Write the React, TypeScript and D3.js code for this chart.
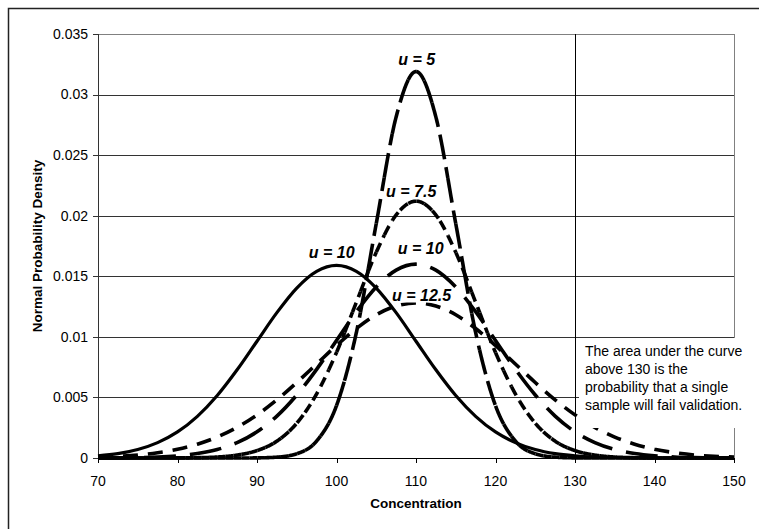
import React, { useEffect, useRef } from "react";
import * as d3 from "d3";

// ---- data ----
const concentration = [
  70, 72.5, 75, 77.5, 80, 82.5, 85, 87.5, 90, 92.5, 95, 97.5, 100, 102.5, 105, 107.5, 110,
  112.5, 115, 117.5, 120, 122.5, 125, 127.5, 130, 132.5, 135, 137.5, 140, 142.5, 145, 147.5, 150,
];

// u = 10, centred at 100 (solid)
const solidU10 = [
  0.00018, 0.00036, 0.0007, 0.00127, 0.00215, 0.00344, 0.00516, 0.00728, 0.00964, 0.012, 0.01403,
  0.01541, 0.0159, 0.01541, 0.01403, 0.012, 0.00964, 0.00728, 0.00516, 0.00344, 0.00215, 0.00127,
  0.0007, 0.00036, 0.00018, 0.00008, 0.00004, 0.00001, 0, 0, 0, 0, 0,
];
// u = 5
const seriesU5 = [
  0, 0, 0, 0, 0, 0, 0, 0, 0.00001, 0.00007, 0.00035, 0.0014, 0.00432, 0.01036, 0.01935, 0.02815,
  0.0319, 0.02815, 0.01935, 0.01036, 0.00432, 0.0014, 0.00035, 0.00007, 0.00001, 0, 0, 0, 0, 0, 0,
  0, 0,
];
// u = 7.5
const seriesU75 = [
  0, 0, 0, 0, 0.000007, 0.000025, 0.00008, 0.00024, 0.00061, 0.00139, 0.00287, 0.00529, 0.00871,
  0.01286, 0.01698, 0.02006, 0.0212, 0.02006, 0.01698, 0.01286, 0.00871, 0.00529, 0.00287, 0.00139,
  0.00061, 0.00024, 0.00008, 0.000025, 0.000007, 0, 0, 0, 0,
];
// u = 10, centred at 110
const seriesU10 = [
  0.000005, 0.000014, 0.000035, 0.00008, 0.00018, 0.00037, 0.0007, 0.00127, 0.00216, 0.00346,
  0.0052, 0.00732, 0.0097, 0.01208, 0.01412, 0.01551, 0.016, 0.01551, 0.01412, 0.01208, 0.0097,
  0.00732, 0.0052, 0.00346, 0.00216, 0.00127, 0.0007, 0.00037, 0.00018, 0.00008, 0.000035,
  0.000014, 0.000005,
];
// u = 12.5
const seriesU125 = [
  0.00008, 0.00014, 0.00025, 0.00044, 0.00072, 0.00114, 0.00173, 0.00253, 0.00356, 0.0048,
  0.00623, 0.00776, 0.00929, 0.01069, 0.01182, 0.01255, 0.0128, 0.01255, 0.01182, 0.01069,
  0.00929, 0.00776, 0.00623, 0.0048, 0.00356, 0.00253, 0.00173, 0.00114, 0.00072, 0.00044,
  0.00025, 0.00014, 0.00008,
];

const xTicks = [70, 80, 90, 100, 110, 120, 130, 140, 150];
const yTicks = [0, 0.005, 0.01, 0.015, 0.02, 0.025, 0.03, 0.035];
const yTickLabels = ["0", "0.005", "0.01", "0.015", "0.02", "0.025", "0.03", "0.035"];

const curveLabels = [
  { text: "u = 5", x: 110.1, y: 0.0324 },
  { text: "u = 7.5", x: 109.4, y: 0.02155 },
  { text: "u = 10", x: 110.6, y: 0.0168 },
  { text: "u = 10", x: 99.4, y: 0.0165 },
  { text: "u = 12.5", x: 110.7, y: 0.0130 },
];

const noteLines = [
  "The area under the curve",
  "above 130 is the",
  "probability that a single",
  "sample will fail validation.",
];

const W = 759;
const H = 529;
const L = 98;
const R = 734;
const T = 34;
const B = 458;

export default function App() {
  const ref = useRef<SVGSVGElement | null>(null);

  useEffect(() => {
    const svg = d3.select(ref.current);
    svg.selectAll("*").remove();
    const font = "'Liberation Sans', Arial, sans-serif";

    const x = d3.scaleLinear().domain([70, 150]).range([L, R]);
    const y = d3.scaleLinear().domain([0, 0.035]).range([B, T]);
    const snap = (v: number) => Math.round(v) + 0.5;

    svg.append("rect").attr("x", 0).attr("y", 0).attr("width", W).attr("height", H).attr("fill", "#fff");
    // chart outer border (cut off on right/bottom)
    svg
      .append("rect")
      .attr("x", 8.5)
      .attr("y", 8.5)
      .attr("width", 900)
      .attr("height", 700)
      .attr("fill", "none")
      .attr("stroke", "#222")
      .attr("stroke-width", 1.5);

    // gridlines
    const grid = svg.append("g");
    yTicks.forEach((t) => {
      grid
        .append("line")
        .attr("x1", L)
        .attr("x2", R)
        .attr("y1", snap(y(t)))
        .attr("y2", snap(y(t)))
        .attr("stroke", t === 0.035 ? "#808080" : "#333")
        .attr("stroke-width", 1);
    });
    // plot-area right border
    grid
      .append("line")
      .attr("x1", snap(R))
      .attr("x2", snap(R))
      .attr("y1", T)
      .attr("y2", B)
      .attr("stroke", "#808080");
    // vertical line at 130
    grid
      .append("line")
      .attr("x1", snap(x(130)))
      .attr("x2", snap(x(130)))
      .attr("y1", T)
      .attr("y2", B)
      .attr("stroke", "#000");

    // axes
    const ax = svg.append("g");
    ax.append("line").attr("x1", snap(L)).attr("x2", snap(L)).attr("y1", T).attr("y2", B + 0.5).attr("stroke", "#333");
    ax.append("line").attr("x1", L).attr("x2", R).attr("y1", snap(B)).attr("y2", snap(B)).attr("stroke", "#000");
    yTicks.forEach((t, i) => {
      ax.append("line")
        .attr("x1", L - 5)
        .attr("x2", L)
        .attr("y1", snap(y(t)))
        .attr("y2", snap(y(t)))
        .attr("stroke", "#333");
      ax.append("text")
        .attr("x", L - 10)
        .attr("y", y(t))
        .attr("dy", "0.35em")
        .attr("text-anchor", "end")
        .attr("font-family", font)
        .attr("font-size", 14)
        .text(yTickLabels[i]);
    });
    xTicks.forEach((t) => {
      ax.append("line")
        .attr("x1", snap(x(t)))
        .attr("x2", snap(x(t)))
        .attr("y1", B)
        .attr("y2", B + 5)
        .attr("stroke", "#000");
      ax.append("text")
        .attr("x", x(t))
        .attr("y", 486)
        .attr("text-anchor", "middle")
        .attr("font-family", font)
        .attr("font-size", 14)
        .text(String(t));
    });
    ax.append("text")
      .attr("x", (L + R) / 2)
      .attr("y", 508)
      .attr("text-anchor", "middle")
      .attr("font-family", font)
      .attr("font-size", 13.5)
      .attr("font-weight", "bold")
      .text("Concentration");
    ax.append("text")
      .attr("transform", `translate(42,${(T + B) / 2}) rotate(-90)`)
      .attr("text-anchor", "middle")
      .attr("font-family", font)
      .attr("font-size", 13.5)
      .attr("font-weight", "bold")
      .text("Normal Probability Density");

    // curves
    const line = d3
      .line<number>()
      .x((_, i) => x(concentration[i]))
      .y((d) => y(d))
      .curve(d3.curveMonotoneX);

    const cg = svg.append("g").attr("fill", "none");

    const drawRestart = (vals: number[], binUnits: number, dash: string, width: number) => {
      const tmp = cg.append("path").attr("d", line(vals) as string);
      const node = tmp.node() as SVGPathElement;
      const len = node.getTotalLength();
      const pts: [number, number][] = [];
      for (let s = 0; s <= len; s += 0.5) {
        const p = node.getPointAtLength(s);
        pts.push([p.x, p.y]);
      }
      const pe = node.getPointAtLength(len);
      pts.push([pe.x, pe.y]);
      tmp.remove();
      const binPx = x(70 + binUnits) - x(70);
      const segs: [number, number][][] = [];
      let cur: [number, number][] = [pts[0]];
      let curBin = Math.floor((pts[0][0] - L) / binPx);
      for (let i = 1; i < pts.length; i++) {
        const b = Math.floor((pts[i][0] - L) / binPx);
        cur.push(pts[i]);
        if (b !== curBin) {
          segs.push(cur);
          cur = [pts[i]];
          curBin = b;
        }
      }
      if (cur.length > 1) segs.push(cur);
      const pl = d3.line();
      segs.forEach((s) => {
        cg.append("path")
          .attr("d", pl(s) as string)
          .attr("stroke", "#000")
          .attr("stroke-width", width)
          .attr("stroke-dasharray", dash);
      });
    };

    // solid
    cg.append("path").attr("d", line(solidU10) as string).attr("stroke", "#000").attr("stroke-width", 3.2);
    // u = 12.5
    cg.append("path")
      .attr("d", line(seriesU125) as string)
      .attr("stroke", "#000")
      .attr("stroke-width", 3.6)
      .attr("stroke-dasharray", "15 10");
    // u = 10 (110)
    cg.append("path")
      .attr("d", line(seriesU10) as string)
      .attr("stroke", "#000")
      .attr("stroke-width", 3.6)
      .attr("stroke-dasharray", "32 14");
    // u = 7.5
    drawRestart(seriesU75, 1, "10 6", 3.6);
    // u = 5
    drawRestart(seriesU5, 1, "25 8", 3.6);

    // curve labels with white background
    const lg = svg.append("g");
    curveLabels.forEach((c) => {
      const t = lg
        .append("text")
        .attr("x", x(c.x))
        .attr("y", y(c.y))
        .attr("text-anchor", "middle")
        .attr("font-family", font)
        .attr("font-size", 16)
        .attr("font-weight", "bold")
        .attr("font-style", "italic")
        .text(c.text);
      const bb = (t.node() as SVGTextElement).getBBox();
      lg.insert("rect", () => t.node() as any)
        .attr("x", bb.x - 1)
        .attr("y", bb.y + 2)
        .attr("width", bb.width + 2)
        .attr("height", bb.height - 3)
        .attr("fill", "#fff");
    });

    // annotation box
    const ng = svg.append("g");
    ng.append("rect").attr("x", 579).attr("y", 338).attr("width", 171).attr("height", 90).attr("fill", "#fff");
    noteLines.forEach((s, i) => {
      ng.append("text")
        .attr("x", 585)
        .attr("y", 356 + i * 18)
        .attr("font-family", font)
        .attr("font-size", 14)
        .text(s);
    });
  }, []);

  return (
    <svg
      ref={ref}
      width={W}
      height={H}
      style={{ position: "absolute", left: 0, top: 0, display: "block" }}
    />
  );
}
